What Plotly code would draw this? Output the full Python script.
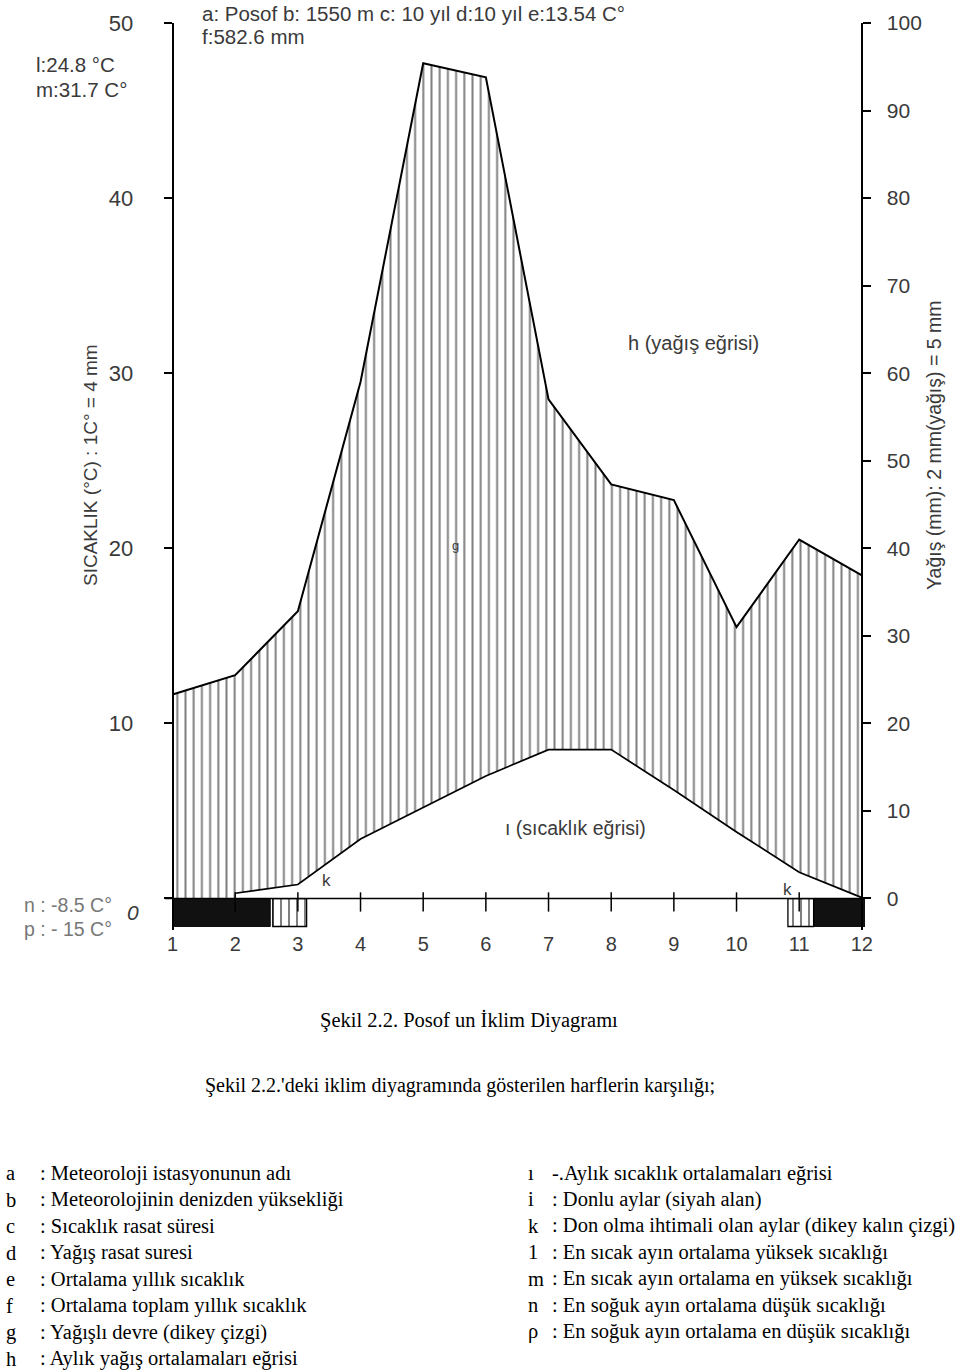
import plotly.graph_objects as go

# Posof climate diagram (Walter-Lieth style)
MONTHS = list(range(1, 13))
PRECIP = [23.3, 25.5, 32.8, 59.0, 95.4, 93.8, 57.0, 47.3, 45.5, 31.0, 41.0, 36.9]
TEMP_MONTHS = [2, 3, 4, 5, 6, 7, 8, 9, 10, 11, 12]
TEMP = [0.3, 0.8, 3.4, 5.2, 7.0, 8.5, 8.5, 6.2, 3.8, 1.5, 0.05]

FROST_START = [1.0, 11.23]
FROST_END = [2.56, 12.05]
RISK_START = [2.6, 10.82]
RISK_END = [3.14, 11.23]

TEMP_TICKS = [0, 10, 20, 30, 40, 50]
TEMP_LABELS = ["", "10", "20", "30", "40", "50"]
PRECIP_TICKS = [0, 10, 20, 30, 40, 50, 60, 70, 80, 90, 100]

LEFT_NOTES = ["a", "b", "c", "d", "e", "f", "g", "h"]
LEFT_TEXTS = [
    ": Meteoroloji istasyonunun adı",
    ": Meteorolojinin denizden yüksekliği",
    ": Sıcaklık rasat süresi",
    ": Yağış rasat suresi",
    ": Ortalama yıllık sıcaklık",
    ": Ortalama toplam yıllık sıcaklık",
    ": Yağışlı devre (dikey çizgi)",
    ": Aylık yağış ortalamaları eğrisi",
]
RIGHT_NOTES = ["ı", "i", "k", "1", "m", "n", "ρ"]
RIGHT_TEXTS = [
    "-.Aylık sıcaklık ortalamaları eğrisi",
    ": Donlu aylar (siyah alan)",
    ": Don olma ihtimali olan aylar (dikey kalın çizgi)",
    ": En sıcak ayın ortalama yüksek sıcaklığı",
    ": En sıcak ayın ortalama en yüksek sıcaklığı",
    ": En soğuk ayın ortalama düşük sıcaklığı",
    ": En soğuk ayın ortalama en düşük sıcaklığı",
]

W, H = 960, 1370
ML, MR, MT, MB = 165, 95, 23, 440
X_RANGE = [0.88, 12.05]
P_RANGE = [-3.6, 100]
T_RANGE = [P_RANGE[0] / 2, P_RANGE[1] / 2]

SANS = "Liberation Sans, Arial, sans-serif"
SERIF = "Liberation Serif, Times New Roman, serif"
INK = "#3a3a3a"


def px_x(px):
    return (px - ML) / (W - ML - MR)


def px_y(py):
    return (H - MB - py) / (H - MB - MT)


def axis_pos(x):
    return (x - X_RANGE[0]) / (X_RANGE[1] - X_RANGE[0])


fig = go.Figure()

# precipitation curve, hatched down to zero
fig.add_trace(go.Scatter(
    x=MONTHS, y=PRECIP, yaxis="y", mode="lines",
    line=dict(color="black", width=2),
    fill="tozeroy", fillcolor="white",
    fillpattern=dict(shape="|", size=8.2, solidity=0.24, fgcolor="black", bgcolor="white"),
))

# frost months (black) and possible frost months (hatched)
fig.add_trace(go.Bar(
    x=[(a + b) / 2 for a, b in zip(FROST_START, FROST_END)],
    y=[-3.2] * len(FROST_START), base=0,
    width=[b - a for a, b in zip(FROST_START, FROST_END)],
    yaxis="y", marker=dict(color="#111", line=dict(color="#111", width=1)),
))
fig.add_trace(go.Bar(
    x=[(a + b) / 2 for a, b in zip(RISK_START, RISK_END)],
    y=[-3.2] * len(RISK_START), base=0,
    width=[b - a for a, b in zip(RISK_START, RISK_END)],
    yaxis="y",
    marker=dict(color="white", line=dict(color="black", width=1.3),
                pattern=dict(shape="|", size=8, solidity=0.25, fgcolor="black", bgcolor="white")),
))

# temperature curve, white below it (overlay axis is drawn on top)
fig.add_trace(go.Scatter(
    x=TEMP_MONTHS, y=TEMP, yaxis="y2", mode="lines",
    line=dict(color="black", width=1.7),
    fill="tozeroy", fillcolor="white",
))

# baseline with month ticks
shapes = [dict(type="line", xref="x", yref="y", x0=X_RANGE[0], x1=X_RANGE[1], y0=0, y1=0,
               line=dict(color="black", width=1.6), layer="above")]
for m in MONTHS[1:-1]:
    shapes.append(dict(type="line", xref="x", yref="y", x0=m, x1=m, y0=0.7, y1=-1.5,
                       line=dict(color="black", width=1.5), layer="above"))

ann = []


def note(text, px, py, size=18, font=SANS, color=INK, xanchor="left", angle=0):
    ann.append(dict(text=text, x=px_x(px), y=px_y(py), xref="paper", yref="paper",
                    showarrow=False, xanchor=xanchor, yanchor="middle", textangle=angle,
                    font=dict(size=size, family=font, color=color)))


note("a: Posof b: 1550 m c: 10 yıl d:10 yıl e:13.54 C°", 200, 13, size=20.5)
note("f:582.6 mm", 200, 37, size=20.5)
note("l:24.8 °C", 34, 65, size=20.5)
note("m:31.7 C°", 34, 89, size=20.5)
note("n : -8.5 C°", 22, 905, size=19.5, color="#777")
note("p : - 15 C°", 22, 929, size=19.5, color="#777")
note("<i>0</i>", 133, 912, size=21, xanchor="center")
note("SICAKLIK (°C) : 1C° = 4 mm", 90, 465, size=19, xanchor="center", angle=-90)
note("Yağış (mm): 2 mm(yağış) = 5 mm", 934, 446, size=19.5, xanchor="center", angle=-90)
note("h (yağış eğrisi)", 626, 343, size=20)
note("ı (sıcaklık eğrisi)", 503, 828, size=19.5)
note("k", 320, 880, size=17)
note("k", 781, 889, size=17)
note("g", 450, 545, size=13)

note("Şekil 2.2. Posof un İklim Diyagramı", 469, 1020, size=20.5, font=SERIF, color="black",
     xanchor="center")
note("Şekil 2.2.'deki iklim diyagramında gösterilen harflerin karşılığı;", 203, 1085,
     size=20, font=SERIF, color="black")

for i, (k, t) in enumerate(zip(LEFT_NOTES, LEFT_TEXTS)):
    note(k, 4, 1173 + i * 26.5, size=20.5, font=SERIF, color="black")
    note(t, 38, 1173 + i * 26.5, size=20.5, font=SERIF, color="black")
for i, (k, t) in enumerate(zip(RIGHT_NOTES, RIGHT_TEXTS)):
    note(k, 526, 1173 + i * 26.4, size=20.5, font=SERIF, color="black")
    note(t, 550, 1173 + i * 26.4, size=20.5, font=SERIF, color="black")

fig.update_layout(
    width=W, height=H,
    margin=dict(l=ML, r=MR, t=MT, b=MB, autoexpand=False),
    paper_bgcolor="white", plot_bgcolor="white",
    showlegend=False, barmode="overlay",
    shapes=shapes, annotations=ann,
    xaxis=dict(range=X_RANGE, tickvals=MONTHS, showgrid=False, zeroline=False,
               showline=False, ticks="", automargin=False,
               tickfont=dict(size=20, family=SANS, color=INK)),
    yaxis=dict(range=P_RANGE, tickvals=PRECIP_TICKS, showgrid=False, zeroline=False,
               side="right", anchor="free", position=axis_pos(12), automargin=False,
               showline=True, linecolor="black", linewidth=1.6, ticks="outside",
               ticklen=8, tickwidth=1.5, tickcolor="black", ticklabelstandoff=12,
               tickfont=dict(size=21, family=SANS, color=INK)),
    yaxis2=dict(range=T_RANGE, tickvals=TEMP_TICKS, ticktext=TEMP_LABELS, showgrid=False,
                zeroline=False, overlaying="y", side="left", anchor="free",
                position=axis_pos(1), automargin=False, showline=True, linecolor="black",
                linewidth=1.6, ticks="outside", ticklen=8, tickwidth=1.5, tickcolor="black",
                ticklabelstandoff=26, tickfont=dict(size=22, family=SANS, color=INK)),
)

fig.write_html("out.html", config={"displayModeBar": False},
               post_script="document.body.style.margin='0px';")
